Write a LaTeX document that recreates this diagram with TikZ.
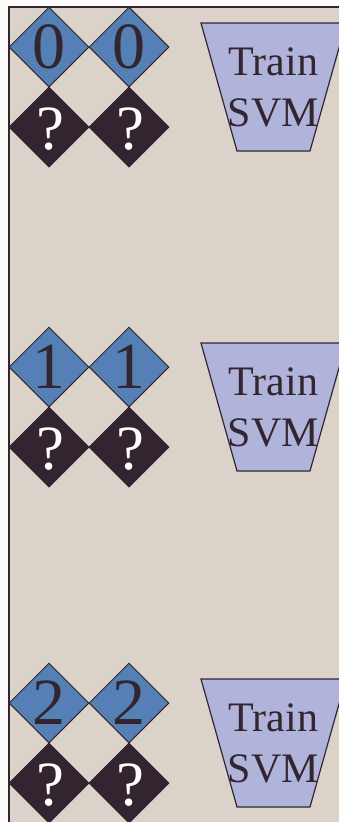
\documentclass[tikz,border=0pt]{standalone}
\usepackage{fontspec}
\setmainfont{Liberation Serif}
\usetikzlibrary{shapes.geometric}
\definecolor{paper}{HTML}{DBD3C9}
\definecolor{ink}{HTML}{33252F}
\definecolor{steel}{HTML}{5580B5}
\definecolor{lavender}{HTML}{B1B4DA}
\definecolor{offwhite}{HTML}{FDFCFB}
\begin{document}
\begin{tikzpicture}[x=1pt,y=-1pt,
  cell/.style={diamond, draw=ink, line width=1pt, minimum width=80pt,
               minimum height=80pt, inner sep=0pt, shape aspect=1},
  known/.style={cell, fill=steel},
  unknown/.style={cell, fill=ink},
  digit/.style={font=\fontsize{66}{66}\selectfont, text=ink, inner sep=0pt},
  query/.style={font=\fontsize{63}{63}\selectfont, text=white, inner sep=0pt,
                xshift=1.5pt, yshift=-2.5pt},
  trainer/.style={draw=ink, line width=1.2pt, fill=lavender, line join=miter},
  caption/.style={font=\fontsize{42}{51}\selectfont, text=ink, align=center, inner sep=0pt}]
  \path[use as bounding box, clip] (0,0) rectangle (339,822);
  % page and frame
  \fill[offwhite] (0,0) rectangle (339,822);
  \fill[paper] (9,7) rectangle (350,830);
  \draw[ink, line width=2pt] (9,830) -- (9,7) -- (350,7);
  % one row per class: two labelled cells, two unknown cells, one trainer
  \foreach \d/\y [count=\r] in {0/47, 1/367, 2/703} {
    \node[known]   (k\r a) at (49,\y) {};
    \node[known]   (k\r b) at (129,\y) {};
    \node[unknown] (u\r a) at (49,\y+80) {};
    \node[unknown] (u\r b) at (129,\y+80) {};
    \node[digit] (kd\r a) at (k\r a) {\d};
    \node[digit] (kd\r b) at (k\r b) {\d};
    \node[query] (uq\r a) at (u\r a) {?};
    \node[query] (uq\r b) at (u\r b) {?};
    \coordinate (t\r) at (273.5,\y+40);
    \draw[trainer] (t\r) ++(-72.5,-64) -- ++(145,0) -- ++(-36,128) -- ++(-73,0) -- cycle;
    \node[caption] (c\r) at (t\r) {Train\\SVM};
  }
\end{tikzpicture}
\end{document}
